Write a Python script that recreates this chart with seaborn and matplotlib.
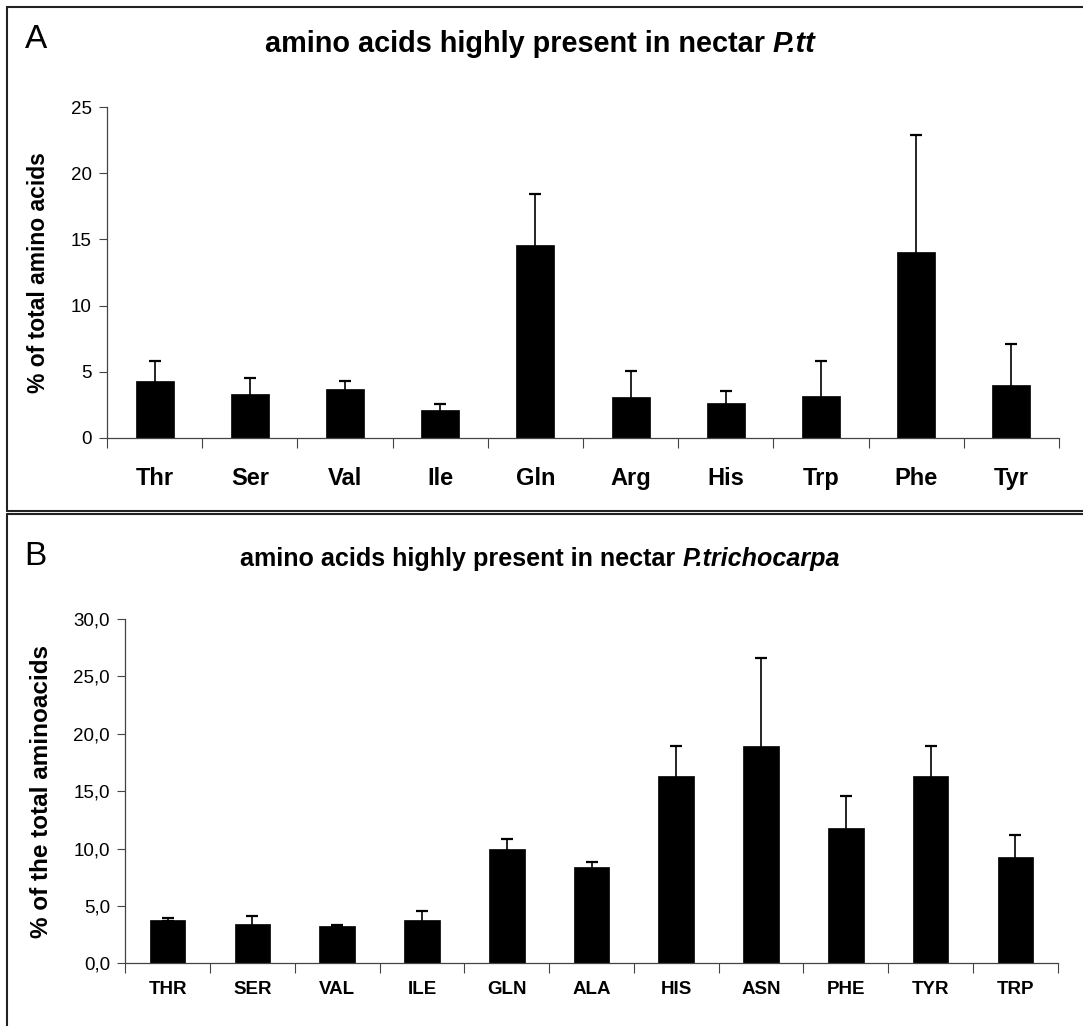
import matplotlib
matplotlib.use("Agg")
import matplotlib.pyplot as plt
import seaborn as sns
import pandas as pd
from matplotlib.lines import Line2D
from matplotlib.ticker import FuncFormatter, FixedLocator, MultipleLocator

# ---- data ----
cats_a = ["Thr", "Ser", "Val", "Ile", "Gln", "Arg", "His", "Trp", "Phe", "Tyr"]
vals_a = [4.3, 3.3, 3.7, 2.1, 14.6, 3.1, 2.6, 3.15, 14.05, 4.0]
errs_a = [1.5, 1.25, 0.6, 0.45, 3.85, 1.95, 0.9, 2.65, 8.85, 3.1]

cats_b = ["THR", "SER", "VAL", "ILE", "GLN", "ALA", "HIS", "ASN", "PHE", "TYR", "TRP"]
vals_b = [3.8, 3.4, 3.25, 3.8, 10.0, 8.4, 16.3, 18.95, 11.8, 16.3, 9.3]
errs_b = [0.15, 0.7, 0.12, 0.75, 0.85, 0.45, 2.65, 7.65, 2.75, 2.65, 1.9]

title_a = ("amino acids highly present in nectar ", "P.tt")
title_b = ("amino acids highly present in nectar ", "P.trichocarpa")

sns.set_theme(style="white")
plt.rcParams["font.family"] = ["Liberation Sans", "DejaVu Sans"]
for k in ["text.color", "axes.labelcolor", "xtick.color", "ytick.color"]:
    plt.rcParams[k] = "black"

W, H = 1083, 1026
fig = plt.figure(figsize=(W / 100, H / 100), dpi=100)

def fx(px):
    return px / W

def fy(py):
    return 1 - py / H

def panel(ax, cats, vals, errs, ymax, ystep, width, fmt, tick_fs, cat_fs, ylabel, ylab_fs, cat_pad):
    df = pd.DataFrame({"cat": cats, "val": vals})
    sns.barplot(data=df, x="cat", y="val", ax=ax, color="black", width=width,
                edgecolor="black", linewidth=0.5, errorbar=None, saturation=1, zorder=2)
    # symmetric error bars drawn behind the bars: only the upper half shows
    ax.errorbar(range(len(cats)), vals, yerr=errs, fmt="none",
                ecolor="black", elinewidth=1.2, capsize=4, capthick=1.6, zorder=1)
    ax.set_xlim(-0.5, len(cats) - 0.5)
    ax.set_ylim(0, ymax)
    ax.yaxis.set_major_locator(MultipleLocator(ystep))
    ax.yaxis.set_major_formatter(FuncFormatter(fmt))
    ax.xaxis.set_minor_locator(FixedLocator([i - 0.5 for i in range(len(cats) + 1)]))
    ax.tick_params(axis="x", which="major", length=0, pad=cat_pad, labelsize=cat_fs)
    ax.tick_params(axis="x", which="minor", length=7, width=0.8, color="#444444", direction="out", bottom=True)
    ax.tick_params(axis="y", which="major", length=6, width=0.8, color="#444444", direction="out",
                   left=True, pad=5, labelsize=tick_fs)
    for lab in ax.get_xticklabels():
        lab.set_fontweight("bold")
    ax.set_xlabel("")
    ax.set_ylabel(ylabel, fontsize=ylab_fs, fontweight="bold")
    for s in ["top", "right"]:
        ax.spines[s].set_visible(False)
    for s in ["left", "bottom"]:
        ax.spines[s].set_color("#444444")
        ax.spines[s].set_linewidth(0.9)
        ax.spines[s].set_zorder(3)

# Panel A
axA = fig.add_axes([fx(107), fy(437.7), fx(1059 - 107), (437.7 - 107.3) / H])
panel(axA, cats_a, vals_a, errs_a, 25, 5, 0.4, lambda v, p: f"{v:.0f}", 13.5, 17,
      "% of total amino acids", 16.5, 21)
axA.yaxis.set_label_coords(-0.060, 0.5)

# Panel B
axB = fig.add_axes([fx(125.3), fy(963.3), fx(1057.7 - 125.3), (963.3 - 619) / H])
panel(axB, cats_b, vals_b, errs_b, 30, 5, 0.42, lambda v, p: f"{v:.1f}".replace(".", ","), 13.5, 13.5,
      "% of the total aminoacids", 17.5, 13)
axB.yaxis.set_label_coords(-0.0775, 0.5)

# Titles (bold + bold italic species part), centred as a whole
renderer = fig.canvas.get_renderer()

def two_part_title(parts, cx, cy, fs):
    t1 = fig.text(0, fy(cy), parts[0], ha="left", va="baseline", fontsize=fs, fontweight="bold")
    t2 = fig.text(0, fy(cy), parts[1], ha="left", va="baseline", fontsize=fs, fontweight="bold",
                  fontstyle="italic")
    w1 = t1.get_window_extent(renderer).width
    w2 = t2.get_window_extent(renderer).width
    x0 = cx - (w1 + w2) / 2
    t1.set_x(fx(x0))
    t2.set_x(fx(x0 + w1))

two_part_title(title_a, 540, 52, 20.8)
two_part_title(title_b, 540, 566, 18.1)

fig.text(fx(25), fy(48), "A", ha="left", va="baseline", fontsize=24)
fig.text(fx(24), fy(565), "B", ha="left", va="baseline", fontsize=24)

# Panel frames
lc = "#222222"
fig.add_artist(Line2D([fx(7), fx(W + 5)], [fy(7), fy(7)], color=lc, lw=1.5))
fig.add_artist(Line2D([fx(7), fx(W + 5)], [fy(511), fy(511)], color=lc, lw=1.5))
fig.add_artist(Line2D([fx(7), fx(7)], [fy(7), fy(511)], color=lc, lw=1.5))
fig.add_artist(Line2D([fx(7), fx(W + 5)], [fy(513.5), fy(513.5)], color=lc, lw=1.5))
fig.add_artist(Line2D([fx(7), fx(7)], [fy(513.5), fy(H + 5)], color=lc, lw=1.5))

fig.savefig("out.png", dpi=100)
